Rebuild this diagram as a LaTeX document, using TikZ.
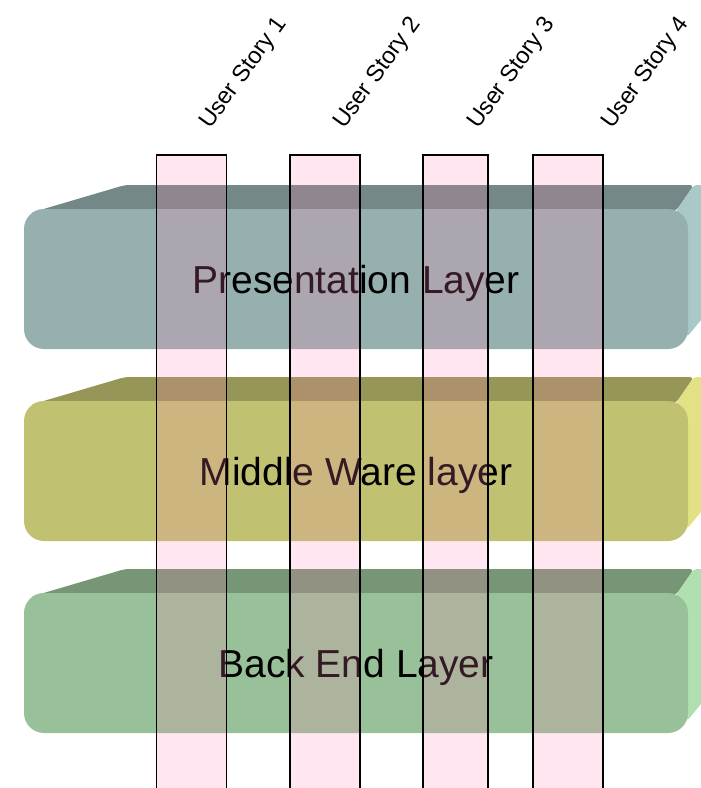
\documentclass[tikz,border=0pt]{standalone}
\usepackage{fontspec}
\setmainfont{Liberation Sans}
\usetikzlibrary{positioning}

\definecolor{prestop}{RGB}{116,136,136}
\definecolor{presfront}{RGB}{150,175,175}
\definecolor{presside}{RGB}{169,201,201}
\definecolor{midtop}{RGB}{150,150,88}
\definecolor{midfront}{RGB}{192,194,114}
\definecolor{midside}{RGB}{226,226,133}
\definecolor{backtop}{RGB}{118,150,118}
\definecolor{backfront}{RGB}{153,193,153}
\definecolor{backside}{RGB}{176,224,176}
\definecolor{storypink}{RGB}{255,130,180}

\tikzset{
  layer/.style={rectangle, rounded corners=20pt, minimum width=664pt, minimum height=140pt,
    inner sep=0pt, text height=28pt, text depth=0pt, font=\fontsize{39}{40}\selectfont},
  story/.style={rectangle, draw=black, line width=1.5pt, fill=storypink, fill opacity=0.2,
    anchor=north, minimum height=640pt, inner sep=0pt},
  storylabel/.style={rotate=54, anchor=base west, inner sep=0pt, font=\fontsize{23.5}{24}\selectfont}
}

\begin{document}
\begin{tikzpicture}[x=1pt,y=-1pt]
\useasboundingbox (0,0) rectangle (701,788);
\clip (0,0) rectangle (701,788);
% the three layers
\foreach \y/\name/\txt in {209/pres/Presentation Layer, 401/mid/Middle Ware layer, 593/back/Back End Layer}{
  \fill[\name top, rounded corners=4pt] (30,{\y+4}) -- (125,{\y-24}) -- (694,{\y-24}) -- (676,{\y+2}) -- cycle;
  \fill[\name side, rounded corners=3pt] (676,{\y+2}) -- (694,{\y-24}) -- (710,{\y-24}) -- (710,{\y+100}) -- (687,{\y+128}) -- cycle;
  \node[layer, fill=\name front] (\name) at (356,{\y+70}) {\txt};
}
% user story columns
\node[story, minimum width=70pt] (us1) at (191.3,154) {};
\node[story, minimum width=70pt] (us2) at (325,154) {};
\node[story, minimum width=65pt] (us3) at (455.5,154) {};
\node[story, minimum width=70pt] (us4) at (568,154) {};
\foreach \i/\x in {1/210,2/344,3/478,4/612}
  \node[storylabel] (lab\i) at (\x,130) {User Story \i};
\end{tikzpicture}
\end{document}
